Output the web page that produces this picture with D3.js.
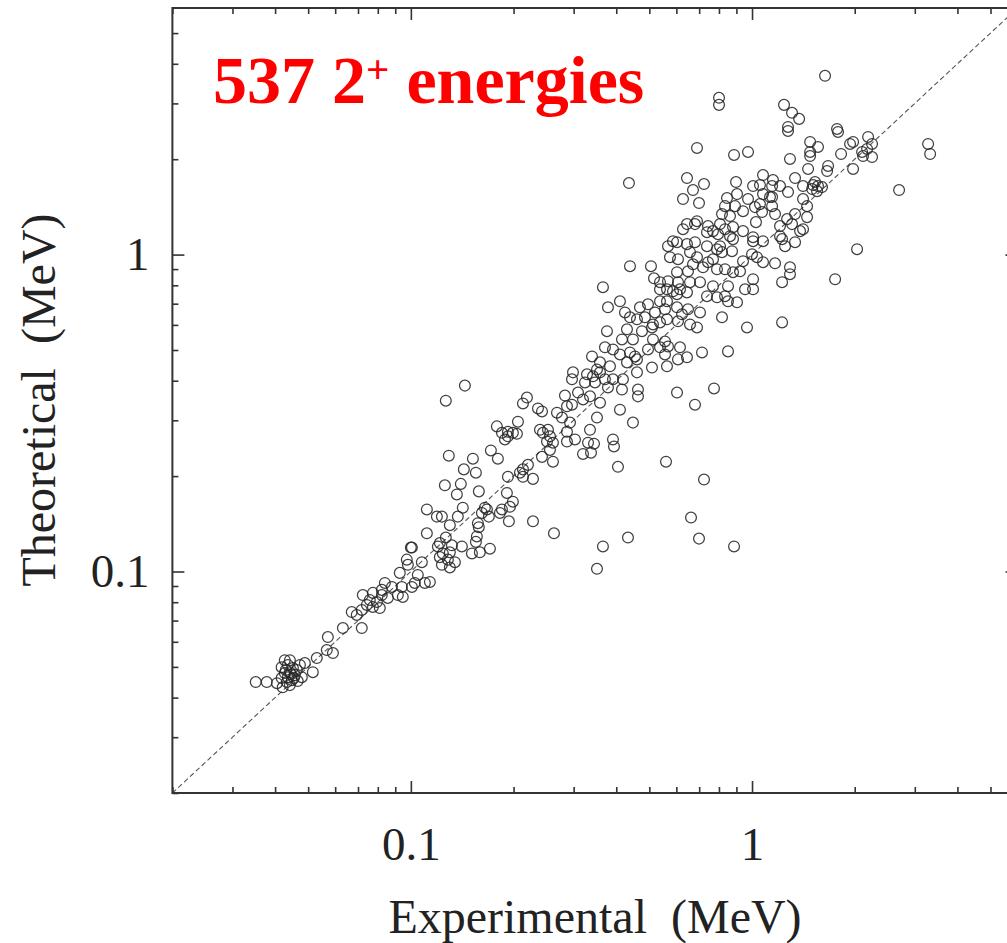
<!DOCTYPE html>
<html>
<head>
<meta charset="utf-8">
<script src="https://cdn.jsdelivr.net/npm/d3@7"></script>
<style>
  body { margin: 0; background: #fff; }
  svg { display: block; }
  text { font-family: "Liberation Serif", "Times New Roman", serif; }
</style>
</head>
<body>
<div id="chart"></div>
<script>
// [experimental, theoretical] 2+ energies in MeV
var lowCluster = [[0.0351,0.0448],[0.0378,0.0448],[0.0405,0.0444],[0.0418,0.0461],[0.0427,0.0478],[0.0433,0.0448],[0.0436,0.0464],[0.0442,0.0481],[0.0427,0.0525],[0.0442,0.0525],[0.0451,0.0496],[0.0457,0.0471],[0.0479,0.0464],[0.0473,0.0507],[0.0489,0.0514],[0.0516,0.0481],[0.0530,0.0533],[0.0421,0.0431],[0.0448,0.0454],[0.0463,0.0489],[0.0436,0.0507],[0.0418,0.0499],[0.0442,0.0438],[0.0454,0.0461],[0.0430,0.0489],[0.0466,0.0451],[0.0445,0.0474]];

var lowBand = [[0.0571,0.0621],[0.0567,0.0565],[0.0591,0.0553],[0.0632,0.0663],[0.0718,0.0663],[0.0671,0.0745],[0.0694,0.0729],[0.0723,0.0843],[0.0718,0.0756],[0.0743,0.0784],[0.0758,0.0813],[0.0774,0.0773],[0.0795,0.0801],[0.0822,0.0843],[0.0811,0.0767],[0.0839,0.0920],[0.0822,0.0875],[0.0880,0.0894],[0.0856,0.0825],[0.0916,0.0843],[0.0947,0.0831],[0.0928,0.0990],[0.0973,0.109],[0.0980,0.105],[0.1007,0.119],[0.1048,0.0975],[0.1027,0.0920],[0.1007,0.0894],[0.1099,0.0920],[0.1137,0.0927],[0.1077,0.107],[0.0941,0.0894],[0.0774,0.0856],[0.1200,0.120],[0.1241,0.114],[0.1284,0.109],[0.1233,0.105],[0.1301,0.103]];

var midBand = [[0.1440,0.386],[0.1266,0.346],[0.2189,0.354],[0.2131,0.339],[0.2358,0.327],[0.2423,0.320],[0.2829,0.359],[0.2967,0.404],[0.2987,0.425],[0.2681,0.317],[0.2773,0.306],[0.2868,0.332],[0.2967,0.336],[0.2927,0.295],[0.2868,0.276],[0.3028,0.261],[0.2868,0.257],[0.2060,0.297],[0.1787,0.287],[0.1849,0.274],[0.1925,0.276],[0.1991,0.274],[0.2046,0.272],[0.1887,0.261],[0.1925,0.267],[0.2390,0.280],[0.2439,0.274],[0.2523,0.280],[0.2557,0.267],[0.2506,0.257],[0.2609,0.255],[0.2557,0.242],[0.2423,0.230],[0.2609,0.222],[0.2204,0.217],[0.2131,0.210],[0.2088,0.205],[0.2131,0.199],[0.2280,0.196],[0.1925,0.199],[0.1716,0.241],[0.1799,0.227],[0.1292,0.232],[0.1520,0.227],[0.1430,0.210],[0.1551,0.205],[0.1401,0.189],[0.1258,0.187],[0.1364,0.175],[0.1582,0.179],[0.1912,0.177],[0.1991,0.166],[0.1951,0.160],[0.1849,0.157],[0.1824,0.153],[0.1648,0.159],[0.1671,0.157],[0.1615,0.153],[0.1693,0.149],[0.1420,0.159],[0.1373,0.149],[0.1114,0.157],[0.1192,0.149],[0.1233,0.149],[0.1301,0.140],[0.1572,0.142],[0.1582,0.138],[0.1938,0.144],[0.2280,0.144],[0.2627,0.132],[0.1114,0.132],[0.1266,0.128],[0.1216,0.123],[0.1319,0.121],[0.1411,0.120],[0.1561,0.129],[0.1551,0.124],[0.1705,0.118],[0.1593,0.115],[0.1510,0.114],[0.1000,0.119],[0.1216,0.111],[0.1346,0.107],[0.1301,0.115]];

var lowOutliers = [[0.3512,0.102],[0.3656,0.120],[0.4329,0.128],[0.4046,0.214],[0.3939,0.248],[0.3196,0.235],[0.3373,0.237],[0.3442,0.253],[0.3306,0.255],[0.5596,0.222],[0.7232,0.195],[0.6625,0.148],[0.6992,0.127],[0.8857,0.120]];

var upperBand = [[0.5671,1.063],[0.6027,1.094],[0.6447,1.079],[0.6805,1.094],[0.5748,0.981],[0.6067,0.967],[0.6580,1.018],[0.6898,0.981],[0.7379,1.063],[0.7895,1.040],[0.8166,1.018],[0.8057,1.063],[0.7685,0.967],[0.8737,1.025],[0.8797,1.119],[1.007,1.102],[1.000,1.003],[0.9410,0.953],[1.034,0.981],[0.4388,0.919],[0.5056,0.919],[0.6714,0.932],[0.7183,0.912],[0.7430,0.946],[0.7895,0.899],[0.8334,0.899],[0.9222,0.886],[0.8797,0.880],[0.6027,0.880],[0.6491,0.886],[0.5160,0.842],[0.5373,0.818],[0.5671,0.824],[0.6067,0.818],[0.6580,0.818],[0.7039,0.818],[0.3656,0.789],[0.5373,0.777],[0.5633,0.777],[0.5866,0.766],[0.6150,0.777],[0.6447,0.760],[0.6027,0.750],[0.7685,0.795],[0.8503,0.795],[0.9539,0.777],[1.007,0.836],[1.007,0.777],[0.7379,0.739],[0.7895,0.733],[0.8334,0.739],[0.8503,0.712],[0.9038,0.707],[0.4101,0.712],[0.5373,0.712],[0.5633,0.712],[0.3782,0.682],[0.4242,0.657],[0.4693,0.682],[0.4955,0.697],[0.5194,0.657],[0.5558,0.672],[0.6027,0.682],[0.6233,0.648],[0.6491,0.672],[0.7039,0.657],[0.4388,0.634],[0.4600,0.625],[0.4855,0.634],[0.5125,0.602],[0.5373,0.611],[0.5633,0.625],[0.6067,0.616],[0.6580,0.602],[0.6898,0.589],[0.8166,0.634],[0.9667,0.589],[0.3757,0.573],[0.4300,0.581],[0.4757,0.573],[0.5090,0.589],[0.4157,0.540],[0.4477,0.540],[0.5125,0.540],[0.5558,0.532],[0.4955,0.502],[0.5373,0.510],[0.5671,0.513],[0.6150,0.510],[0.3706,0.510],[0.3912,0.502],[0.4101,0.484],[0.4388,0.491],[0.4538,0.477],[0.4600,0.467],[0.5558,0.484],[0.6067,0.467],[0.6447,0.474],[0.7135,0.491],[0.8503,0.495],[0.3396,0.477],[0.3584,0.457],[0.3834,0.444],[0.4300,0.457],[0.5090,0.440],[0.5633,0.444],[0.3512,0.434],[0.3283,0.419],[0.3419,0.413],[0.3584,0.425],[0.3706,0.404],[0.3912,0.404],[0.4185,0.404],[0.4600,0.425],[0.3239,0.395],[0.3465,0.395],[0.3782,0.381],[0.4157,0.375],[0.4631,0.375],[0.4631,0.357],[0.6027,0.367],[0.7737,0.378],[0.3090,0.367],[0.3196,0.349],[0.3350,0.357],[0.3584,0.341],[0.6805,0.336],[0.4101,0.324],[0.3512,0.306],[0.4477,0.295],[0.3350,0.280],[0.3912,0.261]];

var topBand = [[1.637,3.666],[0.8003,3.124],[0.8003,2.968],[1.241,2.968],[1.310,2.801],[1.374,2.681],[1.275,2.529],[1.275,2.456],[1.775,2.492],[1.787,2.438],[0.6898,2.170],[0.8857,2.062],[0.9734,2.108],[1.480,2.267],[1.561,2.186],[1.480,2.108],[1.480,2.047],[1.292,2.003],[1.824,2.077],[1.671,1.904],[1.660,1.835],[1.460,1.863],[0.6447,1.744],[0.7232,1.670],[0.6714,1.598],[0.6276,1.497],[0.6992,1.454],[0.8977,1.694],[1.077,1.782],[1.152,1.719],[1.007,1.645],[1.055,1.657],[1.145,1.645],[1.208,1.645],[1.337,1.744],[1.411,1.645],[1.510,1.657],[1.561,1.645],[1.551,1.586],[1.530,1.694],[0.9038,1.552],[0.8446,1.508],[0.9734,1.497],[1.077,1.552],[1.145,1.519],[1.145,1.422],[1.275,1.575],[1.411,1.497],[1.450,1.422],[0.8334,1.422],[0.8917,1.422],[0.9410,1.371],[1.020,1.412],[1.070,1.362],[1.168,1.342],[1.337,1.342],[1.450,1.313],[0.8166,1.342],[0.8619,1.323],[0.6898,1.275],[0.6805,1.248],[0.6447,1.248],[0.6276,1.203],[0.7430,1.230],[0.7685,1.186],[0.8057,1.248],[0.8334,1.203],[0.8797,1.221],[0.9410,1.186],[1.027,1.266],[1.208,1.230],[1.267,1.294],[1.310,1.248],[1.411,1.203],[0.7379,1.177],[0.7949,1.160],[0.8619,1.143],[1.007,1.135],[1.077,1.102],[1.208,1.143],[1.225,1.119],[1.337,1.094],[0.5866,1.102]];

var rightBand = [[1.938,2.235],[1.978,2.267],[2.189,2.351],[2.248,2.235],[2.174,2.154],[2.102,2.108],[2.116,2.047],[2.248,2.032],[3.282,2.235],[3.327,2.077],[1.978,1.863],[1.604,1.633],[1.500,1.610],[2.698,1.598],[1.129,1.519],[1.055,1.443],[1.383,1.186],[1.250,1.063],[2.032,1.040],[1.077,0.946],[1.168,0.939],[1.292,0.912],[1.292,0.867],[1.225,0.818],[1.752,0.836],[1.225,0.611],[0.4358,1.682]];

var majorTicks = [0.1, 1];
var minorTicks = [0.02,0.03,0.04,0.05,0.06,0.07,0.08,0.09,0.2,0.3,0.4,0.5,0.6,0.7,0.8,0.9,2,3,4,5];
var domain = [0.02, 6];

var points = [].concat(lowCluster, lowBand, midBand, lowOutliers, upperBand, topBand, rightBand);

// set the dimensions and margins of the graph
var margin = {top: 8, left: 172.4},
    width = 845.1,
    height = 785;

var root = d3.select("#chart")
  .append("svg")
    .attr("width", 1007)
    .attr("height", 943);

var svg = root.append("g")
    .attr("transform", "translate(" + margin.left + "," + margin.top + ")");

var x = d3.scaleLog().domain(domain).range([0, width]);
var y = d3.scaleLog().domain(domain).range([height, 0]);

// y = x reference line
svg.append("line")
  .attr("x1", x(domain[0])).attr("y1", y(domain[0]))
  .attr("x2", x(domain[1])).attr("y2", y(domain[1]))
  .attr("stroke", "#555")
  .attr("stroke-width", 1.1)
  .attr("stroke-dasharray", "5,3");

svg.selectAll("circle")
  .data(points)
  .enter()
  .append("circle")
    .attr("cx", function(d) { return x(d[0]); })
    .attr("cy", function(d) { return y(d[1]); })
    .attr("r", 5.4)
    .attr("fill", "none")
    .attr("stroke", "#262626")
    .attr("stroke-opacity", 0.88)
    .attr("stroke-width", 1.25);

// ticks on all four sides, pointing inward
function drawAxis(axis, transform, labelled) {
  var g = svg.append("g").attr("transform", transform).call(axis);
  g.select(".domain").remove();
  g.selectAll("line").attr("stroke", "#333").attr("stroke-width", 1.6);
  g.selectAll("text")
    .style("font-size", "47px")
    .attr("fill", "#222");
  if (!labelled) g.selectAll("text").remove();
  return g;
}

var fmt = d3.format("~g");
drawAxis(d3.axisBottom(x).tickValues(minorTicks).tickSize(-6).tickSizeOuter(0), "translate(0," + height + ")", false);
drawAxis(d3.axisBottom(x).tickValues(majorTicks).tickSize(-12).tickSizeOuter(0).tickPadding(34).tickFormat(fmt), "translate(0," + height + ")", true);
drawAxis(d3.axisTop(x).tickValues(minorTicks).tickSize(-6).tickSizeOuter(0), "translate(0,0)", false);
drawAxis(d3.axisTop(x).tickValues(majorTicks).tickSize(-12).tickSizeOuter(0), "translate(0,0)", false);
drawAxis(d3.axisLeft(y).tickValues(minorTicks).tickSize(-6).tickSizeOuter(0), "translate(0,0)", false);
drawAxis(d3.axisLeft(y).tickValues(majorTicks).tickSize(-12).tickSizeOuter(0).tickPadding(23).tickFormat(fmt), "translate(0,0)", true);
drawAxis(d3.axisRight(y).tickValues(minorTicks).tickSize(-6).tickSizeOuter(0), "translate(" + width + ",0)", false);
drawAxis(d3.axisRight(y).tickValues(majorTicks).tickSize(-12).tickSizeOuter(0), "translate(" + width + ",0)", false);

// frame
svg.append("rect")
  .attr("width", width)
  .attr("height", height)
  .attr("fill", "none")
  .attr("stroke", "#333")
  .attr("stroke-width", 2);

// axis titles
root.append("text")
  .attr("x", 595)
  .attr("y", 933)
  .attr("text-anchor", "middle")
  .style("font-size", "48px")
  .attr("fill", "#222")
  .attr("xml:space", "preserve")
  .text("Experimental  (MeV)");

root.append("text")
  .attr("transform", "translate(55,400) rotate(-90)")
  .attr("text-anchor", "middle")
  .style("font-size", "48px")
  .attr("fill", "#222")
  .attr("xml:space", "preserve")
  .text("Theoretical  (MeV)");

// red label
var title = root.append("text")
  .attr("x", 213)
  .attr("y", 103)
  .attr("fill", "#ff0000")
  .attr("font-weight", "bold")
  .style("font-size", "68px");
title.append("tspan").text("537 2");
title.append("tspan").attr("dy", -20).style("font-size", "41px").text("+");
title.append("tspan").attr("dy", 20).attr("xml:space", "preserve").text(" energies");
</script>
</body>
</html>
